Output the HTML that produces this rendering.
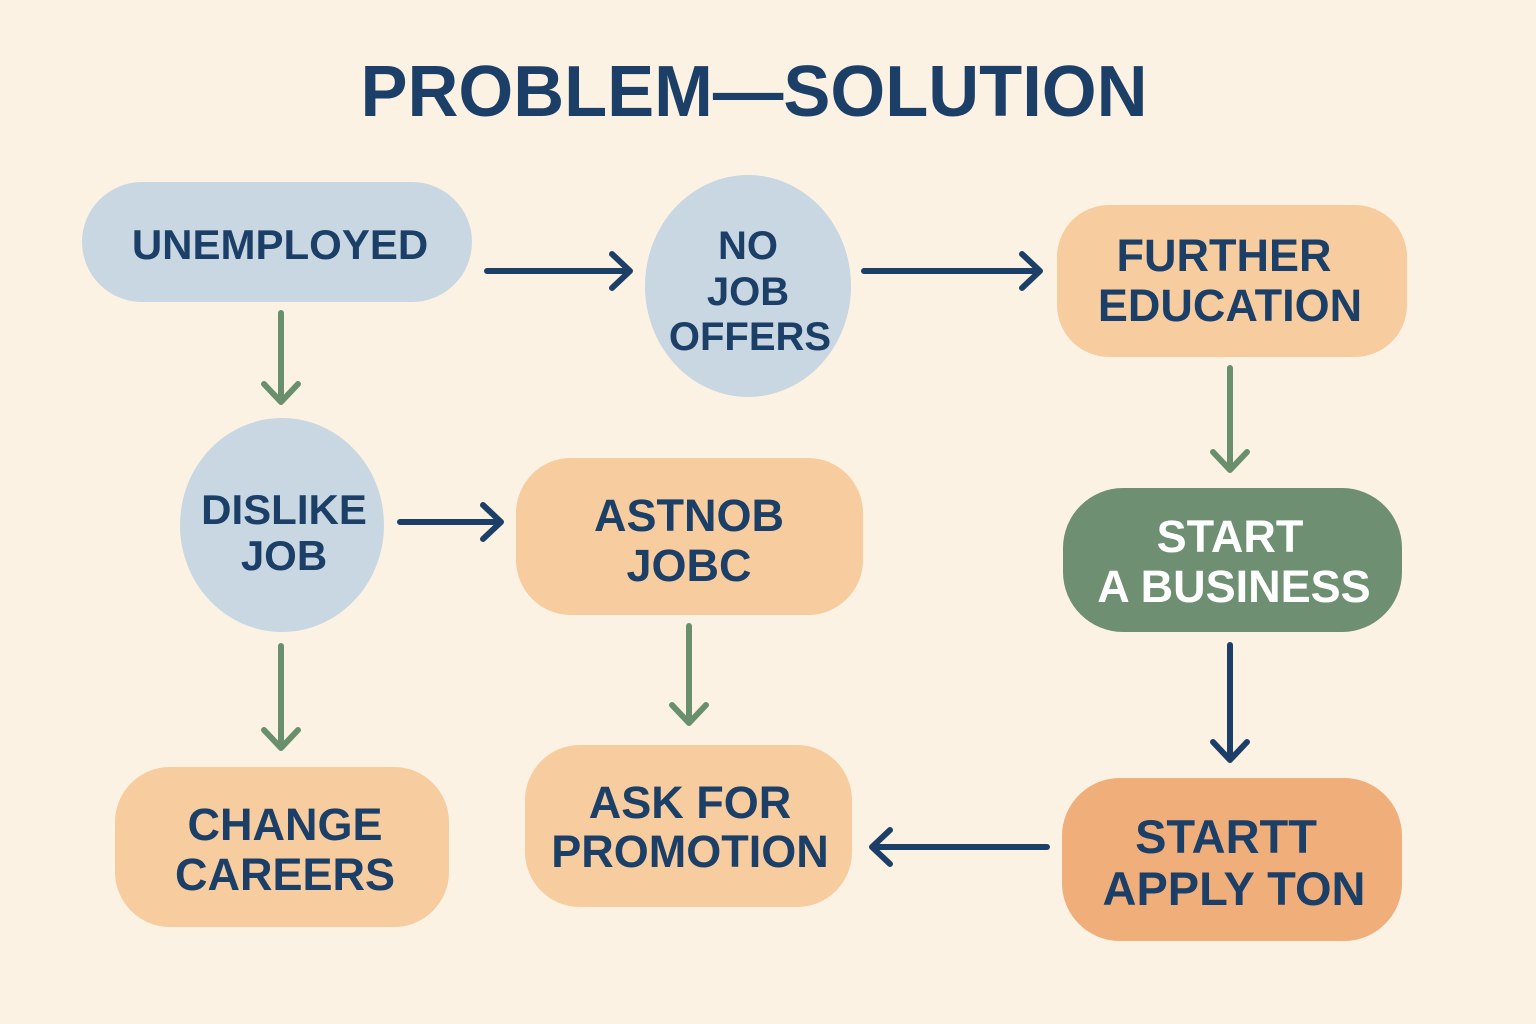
<!DOCTYPE html>
<html><head><meta charset="utf-8"><style>
html,body{margin:0;padding:0;background:#fcf2e3;}
svg{display:block}
text{font-family:"Liberation Sans","DejaVu Sans",sans-serif;font-weight:bold;text-anchor:middle;}
</style></head><body>
<svg width="1536" height="1024" viewBox="0 0 1536 1024">
<rect width="1536" height="1024" fill="#fcf2e3"/>
<text x="754" y="116" font-size="72" fill="#1c3f68" textLength="787" lengthAdjust="spacingAndGlyphs">PROBLEM—SOLUTION</text>
<g fill="none" stroke-linecap="round" stroke-linejoin="round" stroke-width="6">
<g stroke="#1c3f68">
<path d="M487 271H630M612 254L630 271L612 288"/>
<path d="M864 271H1040M1022 254L1040 271L1022 288"/>
<path d="M400 522H501M483 505L501 522L483 539"/>
<path d="M1047 847H872M890 830L872 847L890 864"/>
<path d="M1230 645V760M1213 742L1230 760L1247 742"/>
</g>
<g stroke="#6a8f6c">
<path d="M281 313V402M264 384L281 402L298 384"/>
<path d="M1230 368V470M1213 452L1230 470L1247 452"/>
<path d="M689 626V723M672 705L689 723L706 705"/>
<path d="M281 646V748M264 730L281 748L298 730"/>
</g>
</g>
<rect x="82" y="182" width="390" height="120" rx="60" fill="#c9d7e2"/>
<text x="280" y="259" font-size="42" fill="#1c3f68">UNEMPLOYED</text>
<ellipse cx="748" cy="286" rx="103" ry="111" fill="#c9d7e2"/>
<text x="748" y="259" font-size="40" fill="#1c3f68">NO</text>
<text x="748" y="305" font-size="40" fill="#1c3f68">JOB</text>
<text x="750" y="350" font-size="40" fill="#1c3f68">OFFERS</text>
<rect x="1057" y="205" width="350" height="152" rx="52" fill="#f7cc9f"/>
<text x="1224" y="271" font-size="45" fill="#1c3f68">FURTHER</text>
<text x="1230" y="321" font-size="45" fill="#1c3f68">EDUCATION</text>
<ellipse cx="282" cy="525" rx="102" ry="107" fill="#c9d7e2"/>
<text x="284" y="524" font-size="42" fill="#1c3f68">DISLIKE</text>
<text x="284" y="570" font-size="42" fill="#1c3f68">JOB</text>
<rect x="516" y="458" width="347" height="157" rx="55" fill="#f7cc9f"/>
<text x="689" y="531" font-size="45" fill="#1c3f68">ASTNOB</text>
<text x="689" y="581" font-size="45" fill="#1c3f68">JOBC</text>
<rect x="1063" y="488" width="339" height="144" rx="60" fill="#6e8f72"/>
<text x="1230" y="552" font-size="45" fill="#fff">START</text>
<text x="1234" y="602" font-size="45" fill="#fff">A BUSINESS</text>
<rect x="115" y="767" width="334" height="160" rx="55" fill="#f7cc9f"/>
<text x="285" y="840" font-size="45" fill="#1c3f68">CHANGE</text>
<text x="285" y="890" font-size="45" fill="#1c3f68">CAREERS</text>
<rect x="525" y="745" width="327" height="162" rx="55" fill="#f7cc9f"/>
<text x="690" y="818" font-size="45" fill="#1c3f68">ASK FOR</text>
<text x="690" y="867" font-size="45" fill="#1c3f68">PROMOTION</text>
<rect x="1062" y="778" width="340" height="163" rx="58" fill="#f0ae7a"/>
<text x="1226" y="853" font-size="47" fill="#1c3f68">STARTT</text>
<text x="1234" y="905" font-size="47" fill="#1c3f68">APPLY TON</text>
</svg>
</body></html>
